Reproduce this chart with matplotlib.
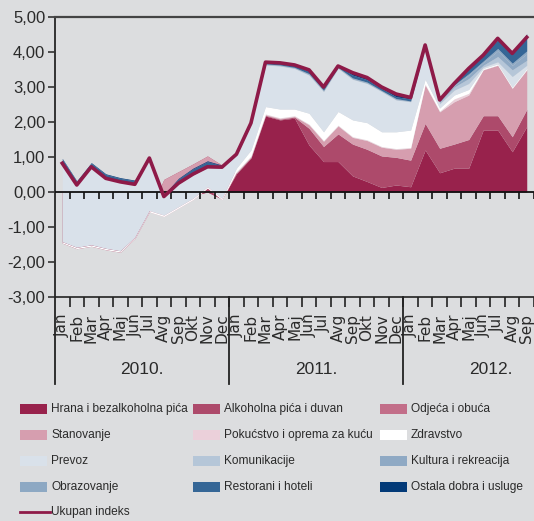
import numpy as np
import matplotlib
matplotlib.use("Agg")
import matplotlib.pyplot as plt
from matplotlib.patches import Rectangle
from matplotlib.lines import Line2D

# Doprinosi godisnjoj stopi inflacije po grupama (p.p.), Jan 2010 - Sep 2012
months = ['Jan', 'Feb', 'Mar', 'Apr', 'Maj', 'Jun', 'Jul', 'Avg', 'Sep', 'Okt', 'Nov', 'Dec']
categories = months + months + months[:9]
years = ['2010.', '2011.', '2012.']

hrana = [-1.46, -1.62, -1.55, -1.65, -1.72, -1.33, -0.57, -0.50, -0.30, -0.10, 0.00, -0.20,
         0.52, 0.97, 2.17, 2.06, 2.11, 1.34, 0.87, 0.87, 0.46, 0.30, 0.13, 0.20,
         0.15, 1.20, 0.55, 0.68, 0.68, 1.77, 1.77, 1.15, 1.87]
alkohol = [0, 0, 0, 0, 0, 0, 0, 0.86, 0.88, 0.90, 1.03, 0.97,
           0.02, 0.02, 0.02, 0.02, 0.03, 0.48, 0.43, 0.79, 0.91, 0.92, 0.90, 0.79,
           0.76, 0.76, 0.70, 0.69, 0.82, 0.41, 0.41, 0.43, 0.49]
odjeca = [0] * 33
stanovanje = [0, 0, 0, 0, 0, 0, 0, -1.06, -1.04, -1.02, -0.92, -0.99,
              0.02, 0.02, 0.02, 0.02, 0.02, 0.10, 0.15, 0.23, 0.19, 0.25, 0.25, 0.23,
              0.34, 1.10, 1.04, 1.21, 1.27, 1.31, 1.44, 1.38, 1.13]
pokucstvo = [0] * 12 + [0.02] * 12 + [0.02, 0.02, 0.02, 0.08, 0.05, 0.01, 0.01, 0.01, 0.01]
zdravstvo = [0.04] * 12 + [0.10, 0.17, 0.21, 0.25, 0.19, 0.31, 0.25, 0.39, 0.48, 0.49, 0.42, 0.48,
                           0.50, 0.14, 0.09, 0.11, 0.11, 0.03, 0.03, 0.03, 0.03]
prevoz = [2.22, 1.76, 2.21, 1.99, 1.95, 1.49, 1.48, 0.51, 0.65, 0.67, 0.55, 0.87,
          0.36, 0.73, 1.19, 1.23, 1.16, 1.09, 1.15, 1.23, 1.16, 1.12, 1.15, 0.91,
          0.81, 0.90, 0.12, 0.14, 0.17, 0.04, 0.06, 0.30, 0.09]
komunikacije = [0.02, 0.02, 0.02, 0.02, 0.02, 0.02, 0.01, 0.01, 0.02, 0.02, 0.02, 0.01,
                0.01, 0.01, 0.01, 0.01, 0.01, 0.01, 0.01, 0.01, 0.01, 0.01, 0.01, 0.01,
                0.01, 0.02, 0.04, 0.09, 0.14, 0.05, 0.15, 0.19, 0.14]
kultura = [0.02, 0.02, 0.02, 0.02, 0.02, 0.02, 0.01, 0.01, 0.02, 0.03, 0.03, 0.01,
           0.01, 0.01, 0.01, 0.01, 0.01, 0.02, 0.02, 0.01, 0.02, 0.02, 0.01, 0.02,
           0.01, 0.01, 0.02, 0.04, 0.10, 0.08, 0.16, 0.13, 0.19]
obrazovanje = [0] * 12 + [0, 0, 0.01, 0.01, 0.01, 0.01, 0.01, 0.01, 0.01, 0.01, 0.01, 0.01,
                          0, 0.01, 0.01, 0.02, 0.04, 0.04, 0.07, 0.06, 0.08]
restorani = [0.10, 0.08, 0.08, 0.08, 0.08, 0.08, 0.03, 0.03, 0.10, 0.12, 0.12, 0.04,
             0.03, 0.03, 0.05, 0.05, 0.05, 0.07, 0.06, 0.04, 0.08, 0.07, 0.06, 0.05,
             0.06, 0.03, 0.04, 0.06, 0.14, 0.15, 0.24, 0.28, 0.42]
ostala = [0.02] * 12 + [0.02, 0.02, 0.03, 0.04, 0.05, 0.07, 0.06, 0.03, 0.10, 0.09, 0.07, 0.10,
                        0.06, 0.03, 0.05, 0.03, 0.06, 0.04, 0.06, 0.02, 0.07]
ukupan = [0.82, 0.20, 0.72, 0.39, 0.29, 0.22, 0.97, -0.13, 0.25, 0.51, 0.72, 0.71,
          1.08, 1.97, 3.71, 3.69, 3.63, 3.49, 3.00, 3.60, 3.41, 3.27, 3.00, 2.80,
          2.70, 4.20, 2.63, 3.10, 3.53, 3.91, 4.39, 3.96, 4.42]

layers = [
    ('Hrana i bezalkoholna pića', hrana, '#98224c'),
    ('Alkoholna pića i duvan', alkohol, '#ad4a6b'),
    ('Odjeća i obuća', odjeca, '#c26e89'),
    ('Stanovanje', stanovanje, '#d69eaf'),
    ('Pokućstvo i oprema za kuću', pokucstvo, '#ebd0da'),
    ('Zdravstvo', zdravstvo, '#ffffff'),
    ('Prevoz', prevoz, '#d9e1ea'),
    ('Komunikacije', komunikacije, '#b5c6d8'),
    ('Kultura i rekreacija', kultura, '#8fa9c4'),
    ('Obrazovanje', obrazovanje, '#8da8c3'),
    ('Restorani i hoteli', restorani, '#356696'),
    ('Ostala dobra i usluge', ostala, '#033a78'),
]
line_color = '#8e1a48'
bg = '#dcdddf'
txt = '#2a2a2a'
font = ['Liberation Sans', 'DejaVu Sans']

fig = plt.figure(figsize=(5.34, 5.21), dpi=100, facecolor=bg)
ax = fig.add_axes([55 / 534, 1 - 297 / 521, 479 / 534, 280 / 521], facecolor=bg)

x = np.arange(len(categories))
base = np.zeros(len(categories))
for name, vals, color in layers:
    top = base + np.array(vals)
    ax.fill_between(x, base, top, color=color, linewidth=0, zorder=2)
    base = top

ax.plot(x, ukupan, color=line_color, lw=2.6, zorder=4)

ax.set_xlim(-0.5, 32.35)
ax.set_ylim(-3, 5)

# zero line with ticks
bounds = np.arange(0.5, len(categories), 1)
ax.axhline(0, color='#111111', lw=1.3, zorder=3.5)
ax.vlines(bounds, -0.2, 0, color='#111111', lw=1.2, zorder=3.5)

ax.spines['right'].set_visible(False)
ax.spines['top'].set_color('#444444')
ax.spines['top'].set_linewidth(1.6)
ax.spines['left'].set_color('#333333')
ax.spines['left'].set_linewidth(1.4)
ax.spines['bottom'].set_color('#222222')
ax.spines['bottom'].set_linewidth(1.2)

yt = np.arange(-3, 6)
ax.set_yticks(yt)
ax.set_yticklabels([f'{v:.2f}'.replace('.', ',') for v in yt],
                   family=font, fontsize=12, color=txt)
ax.tick_params(axis='y', length=5, width=1.2, color='#333333', pad=2)

ax.set_xticks(x)
ax.set_xticklabels(categories, rotation=90, family='DejaVu Sans', fontsize=11,
                   color=txt, va='top', ha='center')
ax.tick_params(axis='x', which='major', length=0, pad=12)
ax.set_xticks(bounds, minor=True)
ax.tick_params(axis='x', which='minor', length=7, width=1.2, color='#222222')

# year separators and labels
xt = ax.get_xaxis_transform()
for xs in [-0.5, 11.5, 23.5]:
    ax.plot([xs, xs], [0, -0.31], transform=xt, clip_on=False, color='#222222', lw=1.3)
for i, yr in enumerate(years):
    ax.text(i * 12 + 5.5, -0.26, yr, transform=xt, ha='center', va='center',
            family=font, fontsize=12.5, color=txt)

# legend, row by row as in the original
col_x = [20, 193, 380]
row_y = [409, 435, 461, 487, 512]
W, H = 534, 521
for i, (name, vals, color) in enumerate(layers):
    r, c = divmod(i, 3)
    px, py = col_x[c], row_y[r]
    fig.patches.append(Rectangle((px / W, 1 - (py + 5) / H), 27 / W, 10 / H,
                                 transform=fig.transFigure, facecolor=color, edgecolor='none'))
    fig.text((px + 31) / W, 1 - py / H, name, ha='left', va='center',
             family=font, fontsize=8.6, color=txt)
fig.lines.append(Line2D([20 / W, 50 / W], [1 - 512 / H, 1 - 512 / H], transform=fig.transFigure,
                        color=line_color, lw=2))
fig.text(51 / W, 1 - 512 / H, 'Ukupan indeks', ha='left', va='center',
         family=font, fontsize=8.6, color=txt)

fig.savefig('out.png', dpi=100, facecolor=bg)
